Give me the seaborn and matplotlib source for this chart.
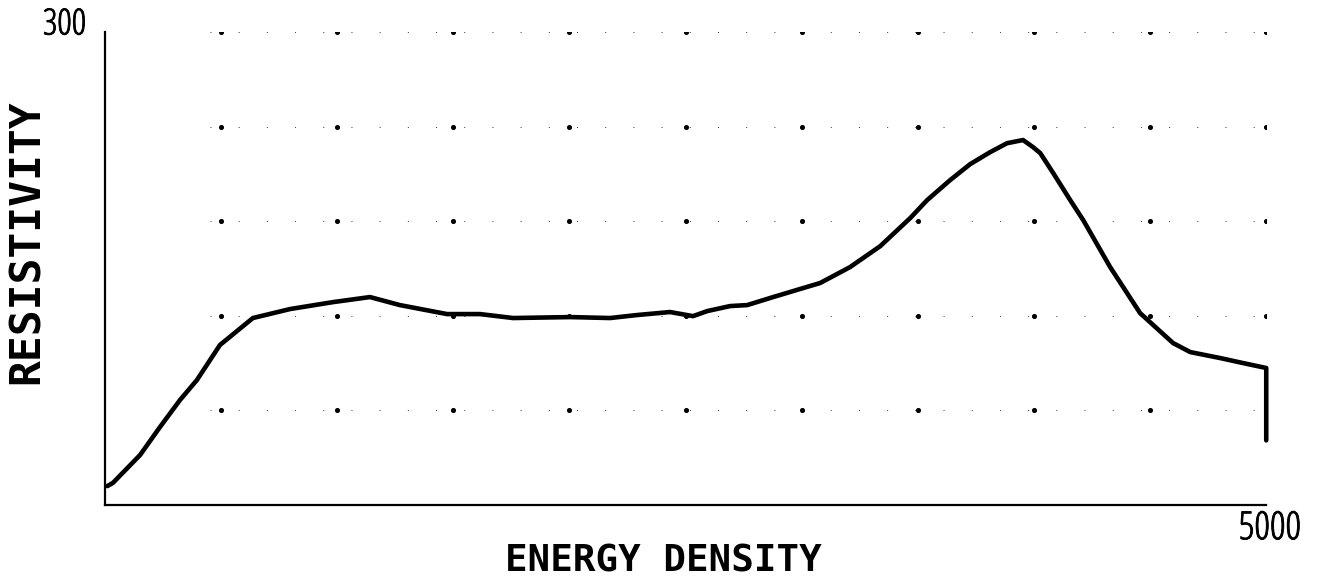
import numpy as np
import pandas as pd
import matplotlib
matplotlib.use("Agg")
import matplotlib.pyplot as plt
import matplotlib.patheffects as pe
import seaborn as sns

# curve
energy = [10, 34, 151, 237, 323, 396, 495, 637, 797, 982, 1141, 1270, 1473,
          1615, 1757, 2003, 2175, 2291, 2433, 2532, 2593, 2692, 2765, 2877,
          3006, 3079, 3208, 3338, 3467, 3540, 3639, 3725, 3811, 3884, 3953,
          3996, 4027, 4083, 4156, 4212, 4328, 4457, 4599, 4673, 4802, 4901,
          5000, 5000]
resistivity = [12, 14, 31.7, 49.5, 66.6, 79.3, 101.5, 118.6, 124.3, 128.7,
               131.9, 126.8, 121.1, 121.1, 118.6, 119.2, 118.6, 120.5, 122.4,
               119.8, 123.0, 126.2, 126.8, 131.9, 137.6, 140.8, 150.9, 164.2,
               182.0, 193.4, 206.1, 216.2, 223.8, 229.5, 231.5, 227.0, 223.2,
               210.5, 193.4, 180.7, 150.9, 121.7, 102.7, 97.0, 93.2, 90.0,
               86.9, 41.0]

x_grid = [500, 1000, 1500, 2000, 2500, 3000, 3500, 4000, 4500, 5000]
y_grid = [60, 120, 180, 240, 300]
x_max, y_max = 5000, 300

df = pd.DataFrame({"ENERGY DENSITY": energy, "RESISTIVITY": resistivity})

sns.set_style("white")
plt.rcParams['font.family'] = ['DejaVu Sans']

fig = plt.figure(figsize=(13.19, 5.83), dpi=100)
ax = fig.add_axes([0.0796, 0.1338, 0.8804, 0.8112])

# sparse dotted grid, heavier dots where the lines cross
for yv in y_grid:
    ax.axhline(yv, xmin=0.09, color="black", lw=0.7, ls=(0, (1, 28)),
               alpha=0.8, zorder=1)
gx, gy = np.meshgrid(x_grid, y_grid)
ax.scatter(gx.ravel(), gy.ravel(), s=7, color="black", zorder=2)

# estimator=None so the vertical drop at the end is kept as drawn
sns.lineplot(data=df, x="ENERGY DENSITY", y="RESISTIVITY", sort=False,
             estimator=None, color="black", lw=3.3, ax=ax, zorder=3)
line = ax.lines[-1]
line.set_solid_capstyle("round")
line.set_solid_joinstyle("round")
line.set_clip_on(False)

ax.set_xlim(0, x_max)
ax.set_ylim(0, y_max)
ax.set_xticks([])
ax.set_yticks([])
for s in ["top", "right"]:
    ax.spines[s].set_visible(False)
for s in ["left", "bottom"]:
    ax.spines[s].set_linewidth(1.6)
    ax.spines[s].set_color("black")
ax.set_xlabel("")
ax.set_ylabel("")

# narrow digits, thickened a little with a stroke
num_font = ['Open Sans', 'DejaVu Sans']
thick = [pe.withStroke(linewidth=0.6, foreground="black")]
fig.text(86 / 1319, 1 - 25 / 583, str(y_max), ha="right", va="center",
         fontsize=26, family=num_font, fontstretch="condensed",
         color="black", path_effects=thick)
fig.text(1301 / 1319, 1 - 529 / 583, str(x_max), ha="right", va="center",
         fontsize=28, family=num_font, fontstretch="condensed",
         color="black", path_effects=thick)

fig.text(663 / 1319, 1 - 562 / 583, "ENERGY DENSITY", ha="center",
         va="center", fontsize=27, fontweight="bold", color="black",
         family=['DejaVu Sans Mono'])
fig.text(27 / 1319, 1 - 242 / 583, "RESISTIVITY", ha="center", va="center",
         rotation=90, fontsize=31, fontweight="bold", color="black",
         family=['DejaVu Sans Mono'])

fig.savefig("out.png", dpi=100, facecolor="white")
